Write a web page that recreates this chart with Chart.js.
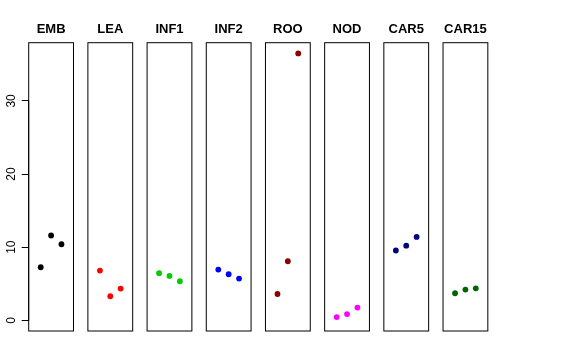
<!DOCTYPE html>
<html>
<head>
<meta charset="utf-8">
<script src="https://cdn.jsdelivr.net/npm/chart.js@4"></script>
<style>
  html, body { margin: 0; padding: 0; background: #fff; }
  #wrap { position: relative; width: 576px; height: 360px; overflow: hidden; }
  #wrap canvas { position: absolute; top: 0; }
</style>
</head>
<body>
<div id="wrap"></div>
<script>
// panel names and their three values each
const categories = ['EMB', 'LEA', 'INF1', 'INF2', 'ROO', 'NOD', 'CAR5', 'CAR15'];
const xs = [1, 2, 3];
const EMB = [7.26, 11.6, 10.4];
const LEA = [6.8, 3.29, 4.34];
const INF1 = [6.44, 6.07, 5.34];
const INF2 = [6.94, 6.3, 5.71];
const ROO = [3.6, 8.08, 36.5];
const NOD = [0.45, 0.86, 1.74];
const CAR5 = [9.55, 10.2, 11.4];
const CAR15 = [3.7, 4.2, 4.38];
const yTicks = [0, 10, 20, 30];

const series = [EMB, LEA, INF1, INF2, ROO, NOD, CAR5, CAR15];
const colors = ['#000000', '#ff0000', '#00cd00', '#0000ff', '#8b0000', '#ff00ff', '#000080', '#006400'];

// layout (px)
const firstLeft = 28.7;
const step = 59.19;
const boxW = 44.8;
const padTop = 21.7;
const padBottom = 29;
const side = 8;

const boxPlugin = {
  id: 'box',
  afterDraw(c) {
    const { ctx, chartArea: a } = c;
    ctx.save();
    ctx.strokeStyle = '#000';
    ctx.lineWidth = 1;
    ctx.strokeRect(a.left, a.top, a.right - a.left, a.bottom - a.top);
    const y = c.scales.y;
    if (y.options.display) {
      // axis line only spans the tick range, like base R
      ctx.beginPath();
      ctx.moveTo(a.left, y.getPixelForValue(yTicks[0]));
      ctx.lineTo(a.left, y.getPixelForValue(yTicks[yTicks.length - 1]));
      ctx.stroke();
    }
    ctx.restore();
  }
};

const wrap = document.getElementById('wrap');

categories.forEach((name, i) => {
  const first = i === 0;
  const boxLeft = firstLeft + i * step;
  const canvasLeft = first ? 0 : Math.floor(boxLeft) - side;
  const padLeft = first ? 0 : boxLeft - canvasLeft;
  const width = Math.ceil(boxLeft + boxW + side) - canvasLeft;

  const canvas = document.createElement('canvas');
  canvas.width = width;
  canvas.height = 360;
  canvas.style.left = canvasLeft + 'px';
  canvas.style.width = width + 'px';
  canvas.style.height = '360px';
  wrap.appendChild(canvas);

  new Chart(canvas, {
    type: 'scatter',
    data: {
      datasets: [{
        data: xs.map((x, j) => ({ x: x, y: series[i][j] })),
        backgroundColor: colors[i],
        borderWidth: 0,
        pointRadius: 2.9,
      }],
    },
    options: {
      responsive: false,
      animation: false,
      devicePixelRatio: 1,
      layout: {
        padding: {
          top: padTop,
          bottom: padBottom,
          left: padLeft,
          right: width - padLeft - (first ? firstLeft : 0) - boxW,
        },
      },
      scales: {
        x: {
          type: 'linear',
          min: -0.16,
          max: 4.16,
          display: false,
        },
        y: {
          min: -1.46,
          max: 37.96,
          display: first,
          afterBuildTicks: (s) => { s.ticks = yTicks.map((v) => ({ value: v })); },
          afterFit: (s) => { if (first) s.width = firstLeft; },
          border: { display: false },
          grid: {
            drawOnChartArea: false,
            drawTicks: true,
            tickLength: 7,
            color: '#000',
          },
          ticks: {
            color: '#000',
            font: { family: '"Liberation Sans", Arial, sans-serif', size: 12 },
            minRotation: 90,
            maxRotation: 90,
            crossAlign: 'center',
            padding: 3,
          },
        },
      },
      plugins: {
        legend: { display: false },
        tooltip: { enabled: false },
        title: {
          display: true,
          text: name,
          fullSize: false,
          color: '#000',
          font: { family: '"Liberation Sans", Arial, sans-serif', size: 13, weight: 'bold' },
          padding: { top: 0, bottom: 5.4 },
        },
      },
    },
    plugins: [boxPlugin],
  });
});
</script>
</body>
</html>
